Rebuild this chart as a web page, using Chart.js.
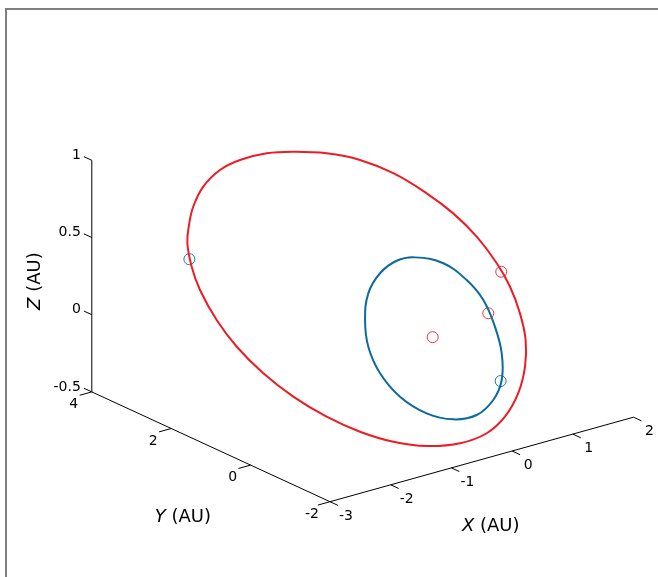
<!DOCTYPE html>
<html>
<head>
<meta charset="utf-8">
<script src="https://cdn.jsdelivr.net/npm/chart.js@4"></script>
<style>
  html, body { margin: 0; padding: 0; background: #fff; overflow: hidden; }
  #wrap { position: relative; width: 658px; height: 577px; }
  #frame { position: absolute; left: 5px; top: 8px; width: 800px; height: 800px;
           border: 2px solid #808080; pointer-events: none; box-sizing: border-box; }
  canvas { position: absolute; left: 0; top: 0; }
</style>
</head>
<body>
<div id="wrap">
  <canvas id="c" width="658" height="577"></canvas>
  <div id="frame"></div>
</div>
<script>
// ---- axis data (AU) ----
const xTicks = [-3, -2, -1, 0, 1, 2];
const yTicks = [-2, 0, 2, 4];
const zTicks = [-0.5, 0, 0.5, 1];
const xLim = [-3, 2];
const yLim = [-2, 4];
const zLim = [-0.5, 1];
const axisTitles = ['X', 'Y', 'Z'];

// ---- orbits, in projected view coordinates [u, v] ----
const orbitRed = [
  [-0.687, -0.515], [-0.471, -0.612], [-0.255, -0.677], [-0.039, -0.705], [0.177, -0.687],
  [0.350, -0.622], [0.468, -0.515], [0.554, -0.363], [0.598, -0.191], [0.602, -0.018],
  [0.565, 0.155], [0.501, 0.327], [0.415, 0.479], [0.285, 0.651], [0.133, 0.802],
  [-0.039, 0.932], [-0.255, 1.062], [-0.471, 1.148], [-0.687, 1.191], [-0.903, 1.201],
  [-1.075, 1.191], [-1.248, 1.148], [-1.378, 1.083], [-1.486, 0.975], [-1.551, 0.845],
  [-1.578, 0.727], [-1.589, 0.610], [-1.561, 0.457], [-1.507, 0.306], [-1.399, 0.111],
  [-1.269, -0.062], [-1.097, -0.234], [-0.903, -0.385], [-0.687, -0.515]
];
const orbitBlue = [
  [-0.212, -0.385], [-0.341, -0.234], [-0.417, -0.062], [-0.438, 0.111], [-0.417, 0.284],
  [-0.341, 0.414], [-0.233, 0.495], [-0.115, 0.517], [0.069, 0.479], [0.220, 0.370],
  [0.328, 0.241], [0.403, 0.068], [0.447, -0.104], [0.447, -0.277], [0.392, -0.407],
  [0.285, -0.504], [0.133, -0.532], [-0.039, -0.493], [-0.212, -0.385]
];
const markersBlue = [[-1.576, 0.505], [0.440, -0.284]];
const markersRed = [[0.444, 0.424], [0.360, 0.155]];
const sunXYZ = [0, 0, 0];

// ---- view projection (3D AU -> 2D view units) ----
const K = 154.4;                 // px per view unit
const SUN_PX = [432.7, 337.2];   // where the origin lands on the canvas
function proj(X, Y, Z) {
  return [(60.7 * X - 39.7 * Y) / K, (16.9 * X + 18.3 * Y + 154.4 * Z) / K];
}
const W = 658, H = 577;
const uMin = -SUN_PX[0] / K, uMax = (W - SUN_PX[0]) / K;
const vMax = SUN_PX[1] / K, vMin = (SUN_PX[1] - H) / K;

const pt = a => ({ x: a[0], y: a[1] });
const seg3 = (a, b) => [pt(proj(...a)), pt(proj(...b))];

const black = '#000000';
const lineDS = (data, color, width) => ({
  data, showLine: true, borderColor: color, borderWidth: width,
  pointRadius: 0, fill: false, tension: 0
});
// closed smooth loop: wrap one point on each side, hide the two wrap segments
function loopDS(loop, color) {
  const n = loop.length;
  const data = [loop[n - 2], ...loop, loop[1]].map(pt);
  const last = data.length - 1;
  return {
    ...lineDS(data, color, 2), tension: 0.4,
    segment: {
      borderColor: c => (c.p0DataIndex === 0 || c.p1DataIndex === last) ? 'rgba(0,0,0,0)' : color
    }
  };
}

const datasets = [];
// axis lines
datasets.push(lineDS(seg3([xLim[0], yLim[1], zLim[0]], [xLim[0], yLim[1], zLim[1]]), black, 1));
datasets.push(lineDS(seg3([xLim[0], yLim[1], zLim[0]], [xLim[0], yLim[0], zLim[0]]), black, 1));
datasets.push(lineDS(seg3([xLim[0], yLim[0], zLim[0]], [xLim[1], yLim[0], zLim[0]]), black, 1));
// tick marks
const tl = 0.2;
zTicks.forEach(z => datasets.push(lineDS(seg3([xLim[0], yLim[1], z], [xLim[0], yLim[1] + tl, z]), black, 1)));
yTicks.forEach(y => datasets.push(lineDS(seg3([xLim[0], y, zLim[0]], [xLim[0] - tl, y, zLim[0]]), black, 1)));
xTicks.forEach(x => datasets.push(lineDS(seg3([x, yLim[0], zLim[0]], [x, yLim[0] - tl, zLim[0]]), black, 1)));
// orbits
datasets.push(loopDS(orbitRed, '#ed1c24'));
datasets.push(loopDS(orbitBlue, '#0b6a9e'));
// markers
const markerDS = (data, color) => ({
  data, showLine: false, pointStyle: 'circle', pointRadius: 5.5,
  pointBorderWidth: 1, pointBorderColor: color, pointBackgroundColor: 'rgba(0,0,0,0)'
});
datasets.push(markerDS(markersBlue.map(pt), '#1f74ad'));
datasets.push(markerDS([...markersRed.map(pt), pt(proj(...sunXYZ))], '#ee3338'));

const FONT = '"DejaVu Sans", sans-serif';
const labelPlugin = {
  id: 'labels3d',
  afterDatasetsDraw(chart) {
    const { ctx } = chart;
    const sx = chart.scales.x, sy = chart.scales.y;
    const P = (X, Y, Z) => { const [u, v] = proj(X, Y, Z); return [sx.getPixelForValue(u), sy.getPixelForValue(v)]; };
    ctx.save();
    ctx.fillStyle = '#000';
    ctx.font = '14px ' + FONT;
    ctx.textBaseline = 'middle';
    ctx.textAlign = 'right';
    zTicks.forEach(z => { const [px, py] = P(xLim[0], yLim[1], z); ctx.fillText(String(z), px - 11, py - 5); });
    ctx.textAlign = 'center';
    yTicks.forEach(y => { const [px, py] = P(xLim[0], y, zLim[0]); ctx.fillText(String(y), px - 18, py + 12.5); });
    xTicks.forEach(x => { const [px, py] = P(x, yLim[0], zLim[0]); ctx.fillText(String(x), px + 16, py + 14.4); });

    function title(letter, cx, cy, rot) {
      const fi = 'oblique 18px ' + FONT, fn = '18px ' + FONT;
      const rest = ' (AU)';
      ctx.font = fi; const w1 = ctx.measureText(letter).width;
      ctx.font = fn; const w2 = ctx.measureText(rest).width;
      ctx.save();
      ctx.translate(cx, cy);
      if (rot) ctx.rotate(rot);
      ctx.textAlign = 'left';
      ctx.textBaseline = 'middle';
      ctx.font = fi; ctx.fillText(letter, -(w1 + w2) / 2, 0);
      ctx.font = fn; ctx.fillText(rest, -(w1 + w2) / 2 + w1, 0);
      ctx.restore();
    }
    let p = P((xLim[0] + xLim[1]) / 2, yLim[0], zLim[0]);
    title(axisTitles[0], p[0] + 9, p[1] + 67, 0);
    p = P(xLim[0], (yLim[0] + yLim[1]) / 2, zLim[0]);
    title(axisTitles[1], p[0] - 28, p[1] + 71, 0);
    p = P(xLim[0], yLim[1], (zLim[0] + zLim[1]) / 2);
    title(axisTitles[2], p[0] - 56, p[1] + 5, -Math.PI / 2);
    ctx.restore();
  }
};

new Chart(document.getElementById('c'), {
  type: 'scatter',
  data: { datasets },
  options: {
    responsive: false,
    devicePixelRatio: 1,
    animation: false,
    layout: { padding: 0, autoPadding: false },
    plugins: { legend: { display: false }, tooltip: { enabled: false } },
    events: [],
    scales: {
      x: { type: 'linear', min: uMin, max: uMax, display: false },
      y: { type: 'linear', min: vMin, max: vMax, display: false }
    }
  },
  plugins: [labelPlugin]
});
</script>
</body>
</html>
